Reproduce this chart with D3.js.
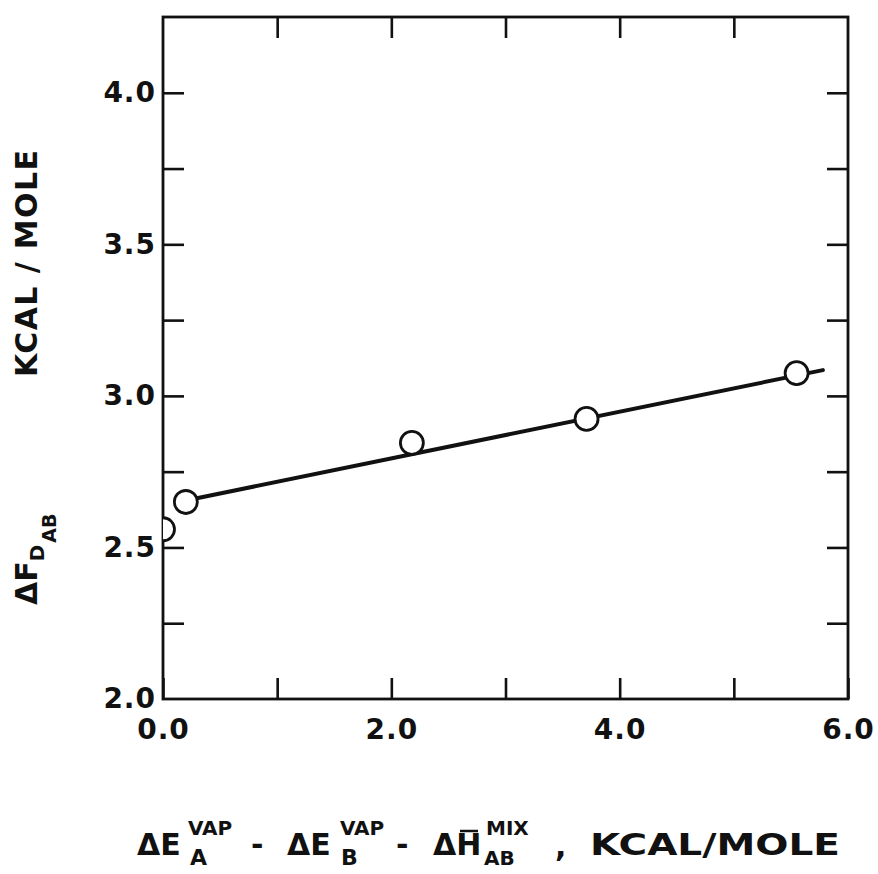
<!DOCTYPE html>
<html lang="en">
<head>
    <meta charset="UTF-8">
    <title>Delta F vs vaporization energy difference</title>
    <script src="https://d3js.org/d3.v7.min.js"></script>
    <style>
        body {
            margin: 0;
            background: white;
        }
        svg text {
            font-family: "DejaVu Sans", sans-serif;
            font-weight: bold;
            fill: #111;
        }
    </style>
</head>
<body>
    <svg id="chart"></svg>

    <script>
        // points
        const xValues = [0.0, 0.20, 2.18, 3.71, 5.55];
        const yValues = [2.56, 2.65, 2.845, 2.924, 3.075];

        // straight fitted line (start, end)
        const lineX = [0.20, 5.78];
        const lineY = [2.655, 3.085];

        const xTicks = [0, 1, 2, 3, 4, 5, 6];
        const xLabelTicks = [0, 2, 4, 6];
        const yTicks = [2.0, 2.25, 2.5, 2.75, 3.0, 3.25, 3.5, 3.75, 4.0];
        const yLabelTicks = [2.0, 2.5, 3.0, 3.5, 4.0];

        const width = 878;
        const height = 874;

        const svg = d3.select('#chart')
            .attr('width', width)
            .attr('height', height);

        const x = d3.scaleLinear().domain([0, 6]).range([163, 848]);
        const y = d3.scaleLinear().domain([2.0, 4.25]).range([699, 17]);

        const ink = '#111';
        const tickLen = 21;

        // clip so the first circle is cut by the left axis
        svg.append('clipPath').attr('id', 'plot-clip')
            .append('rect')
            .attr('x', x(0)).attr('y', y(4.25))
            .attr('width', x(6) - x(0)).attr('height', y(2) - y(4.25));

        function styleAxis(g) {
            g.select('.domain').remove();
            g.selectAll('.tick line').attr('stroke', ink).attr('stroke-width', 2.6);
            g.selectAll('.tick text')
                .attr('font-size', 28)
                .attr('letter-spacing', 1)
                .attr('fill', ink);
        }

        // bottom axis
        svg.append('g')
            .attr('transform', `translate(0,${y(2.0)})`)
            .call(d3.axisBottom(x).tickValues(xTicks).tickSize(-tickLen).tickPadding(20)
                .tickFormat(d => xLabelTicks.includes(d) ? d3.format('.1f')(d) : ''))
            .call(styleAxis);

        // top axis
        svg.append('g')
            .attr('transform', `translate(0,${y(4.25)})`)
            .call(d3.axisTop(x).tickValues(xTicks.slice(1, -1)).tickSize(-tickLen).tickFormat(''))
            .call(styleAxis);

        // left axis (2.0 tick sits on the frame corner, only its label shows)
        const left = svg.append('g')
            .attr('transform', `translate(${x(0)},0)`)
            .call(d3.axisLeft(y).tickValues(yTicks).tickSize(-tickLen).tickPadding(7)
                .tickFormat(d => yLabelTicks.includes(d) ? d3.format('.1f')(d) : ''))
            .call(styleAxis);
        left.selectAll('.tick').filter(d => d === 2.0).select('line').remove();

        // right axis
        svg.append('g')
            .attr('transform', `translate(${x(6)},0)`)
            .call(d3.axisRight(y).tickValues(yTicks.slice(1)).tickSize(-tickLen).tickFormat(''))
            .call(styleAxis);

        // frame
        svg.append('rect')
            .attr('x', x(0)).attr('y', y(4.25))
            .attr('width', x(6) - x(0)).attr('height', y(2.0) - y(4.25))
            .attr('fill', 'none')
            .attr('stroke', ink)
            .attr('stroke-width', 2.8);

        const plot = svg.append('g').attr('clip-path', 'url(#plot-clip)');

        plot.append('line')
            .attr('x1', x(lineX[0])).attr('y1', y(lineY[0]))
            .attr('x2', x(lineX[1])).attr('y2', y(lineY[1]))
            .attr('stroke', ink)
            .attr('stroke-width', 4)
            .attr('stroke-linecap', 'round');

        plot.selectAll('circle')
            .data(xValues.map((v, i) => ({ x: v, y: yValues[i] })))
            .join('circle')
            .attr('cx', d => x(d.x))
            .attr('cy', d => y(d.y))
            .attr('r', 11.5)
            .attr('fill', 'white')
            .attr('stroke', ink)
            .attr('stroke-width', 2.8);

        // x axis title, built piece by piece
        const xt = svg.append('g');
        const base = 855;
        const pieces = [
            { t: '\u0394E', x: 137, dy: 0, fs: 30 },
            { t: 'VAP', x: 188, dy: -20, fs: 20 },
            { t: 'A', x: 190, dy: 10, fs: 22 },
            { t: '-', x: 251, dy: 0, fs: 30 },
            { t: '\u0394E', x: 287, dy: 0, fs: 30 },
            { t: 'VAP', x: 340, dy: -20, fs: 20 },
            { t: 'B', x: 341, dy: 10, fs: 22 },
            { t: '-', x: 396, dy: 0, fs: 30 },
            { t: '\u0394H', x: 433, dy: 0, fs: 30 },
            { t: 'MIX', x: 486, dy: -20, fs: 20 },
            { t: 'AB', x: 484, dy: 10, fs: 20 },
            { t: ',', x: 555, dy: 2, fs: 30 },
            { t: 'KCAL/MOLE', x: 590, dy: 0, fs: 30, len: 250 }
        ];
        pieces.forEach(p => {
            const t = xt.append('text')
                .attr('x', p.x)
                .attr('y', base + p.dy)
                .attr('font-size', p.fs)
                .text(p.t);
            if (p.len) t.attr('textLength', p.len).attr('lengthAdjust', 'spacingAndGlyphs');
        });
        // bar over H
        xt.append('line')
            .attr('x1', 460).attr('x2', 478)
            .attr('y1', 831).attr('y2', 831)
            .attr('stroke', ink).attr('stroke-width', 2.5);

        // y axis title (rotated)
        const yt = svg.append('g');
        yt.append('text')
            .attr('transform', 'translate(37,377) rotate(-90)')
            .attr('font-size', 30)
            .attr('textLength', 227)
            .attr('lengthAdjust', 'spacing')
            .text('KCAL / MOLE');

        const yf = yt.append('text')
            .attr('transform', 'translate(37,605) rotate(-90)')
            .attr('font-size', 30);
        yf.append('tspan').text('\u0394F');
        yf.append('tspan').attr('font-size', 20).attr('dy', 7).text('D');
        yf.append('tspan').attr('font-size', 19).attr('dy', 12).attr('dx', 2).text('AB');
    </script>
</body>
</html>
